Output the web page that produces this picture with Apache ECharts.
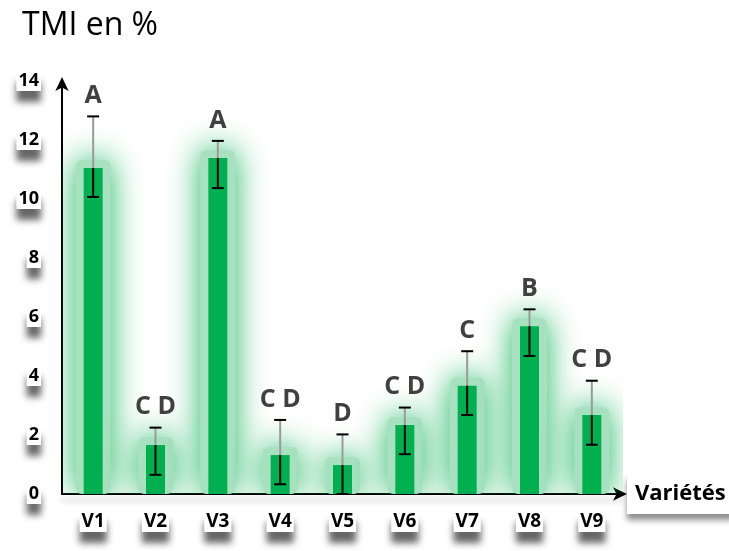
<!DOCTYPE html>
<html>
<head>
<meta charset="utf-8">
<script src="https://cdn.jsdelivr.net/npm/echarts@6/dist/echarts.min.js"></script>
<style>
  html, body { margin: 0; padding: 0; background: #fff; }
  #chart { width: 729px; height: 551px; }
</style>
</head>
<body>
<div id="chart"></div>
<script>
// TMI (%) par variété : moyenne, bornes de l'écart et groupes statistiques
const varietes = ['V1', 'V2', 'V3', 'V4', 'V5', 'V6', 'V7', 'V8', 'V9'];
const moyennes = [11.05, 1.66, 11.39, 1.32, 0.98, 2.34, 3.67, 5.69, 2.68];
const bornesHautes = [12.8, 2.25, 11.97, 2.51, 2.02, 2.93, 4.84, 6.26, 3.84];
const bornesBasses = [10.07, 0.65, 10.37, 0.33, 0, 1.35, 2.68, 4.68, 1.67];
const groupes = ['A', 'C D', 'A', 'C D', 'D', 'C D', 'C', 'B', 'C D'];
const graduations = [0, 2, 4, 6, 8, 10, 12, 14];

const FONT = '"Open Sans", "Noto Sans", sans-serif';
const LARGEUR_BARRE = 19;
const chart = echarts.init(document.getElementById('chart'), null, { renderer: 'canvas' });

const boxLabel = {
  color: '#000',
  fontFamily: FONT,
  fontWeight: 'bold',
  backgroundColor: '#fff',
  shadowColor: 'rgba(0,0,0,0.6)',
  shadowBlur: 7,
  shadowOffsetY: 11
};

// halo vert autour de chaque barre
function renderHalo(params, api) {
  const i = api.value(0);
  const haut = api.coord([i, api.value(1)]);
  const bas = api.coord([i, 0]);
  const marge = 8;
  const x = haut[0] - LARGEUR_BARRE / 2 - marge;
  return {
    type: 'rect',
    shape: { x: x, y: haut[1] - marge, width: LARGEUR_BARRE + 2 * marge, height: bas[1] - haut[1] + marge, r: 6 },
    style: { fill: '#a8e1c0', shadowBlur: 32, shadowColor: 'rgba(0,176,80,0.9)' }
  };
}

function renderErreur(params, api) {
  const i = api.value(0);
  const pMoy = api.coord([i, api.value(1)]);
  const pHaut = api.coord([i, api.value(2)]);
  const pBas = api.coord([i, api.value(3)]);
  const x = pMoy[0];
  const demi = 6;
  return {
    type: 'group',
    children: [
      { type: 'line', shape: { x1: x, y1: pHaut[1], x2: x, y2: pMoy[1] },
        style: { stroke: '#9a9a9a', lineWidth: 2 } },
      { type: 'line', shape: { x1: x, y1: pMoy[1], x2: x, y2: pBas[1] },
        style: { stroke: '#000', lineWidth: 2 } },
      { type: 'line', shape: { x1: x - demi, y1: pHaut[1], x2: x + demi, y2: pHaut[1] },
        style: { stroke: '#000', lineWidth: 2 } },
      { type: 'line', shape: { x1: x - demi, y1: pBas[1], x2: x + demi, y2: pBas[1] },
        style: { stroke: '#000', lineWidth: 2 } },
      { type: 'text', x: x, y: pHaut[1] - 8,
        style: { text: groupes[params.dataIndex], align: 'center', verticalAlign: 'bottom',
          fill: '#404040', font: 'bold 25px ' + FONT } }
    ]
  };
}

chart.setOption({
  animation: false,
  title: {
    text: 'TMI en %',
    left: 17, top: 5,
    textStyle: { fontFamily: FONT, fontSize: 32, fontWeight: 'normal', color: '#000' }
  },
  grid: { left: 62, right: 106, top: 81, bottom: 57, containLabel: false, outerBoundsMode: 'none' },
  xAxis: {
    type: 'category',
    data: varietes,
    name: 'Variétés',
    nameLocation: 'end',
    nameGap: 4,
    nameTextStyle: Object.assign({}, boxLabel, {
      fontSize: 22, padding: [14, 8, 4, 8], verticalAlign: 'middle',
      shadowOffsetY: 6, shadowBlur: 6, shadowColor: 'rgba(0,0,0,0.45)'
    }),
    axisLine: {
      show: true,
      symbol: ['none', 'arrow'],
      symbolSize: [10, 14],
      symbolOffset: [0, 4],
      lineStyle: { color: '#000', width: 2, shadowColor: 'rgba(0,0,0,0.25)', shadowBlur: 6, shadowOffsetY: 6 }
    },
    axisTick: { show: false },
    axisLabel: Object.assign({}, boxLabel, { fontSize: 19, margin: 17, padding: [1, 2, 1, 2] })
  },
  yAxis: {
    type: 'value',
    min: 0, max: 14, interval: 2,
    axisLine: {
      show: true,
      symbol: ['none', 'arrow'],
      symbolSize: [10, 14],
      symbolOffset: [0, 4],
      lineStyle: { color: '#000', width: 2 }
    },
    axisTick: { show: false },
    splitLine: { show: false },
    axisLabel: Object.assign({}, boxLabel, {
      fontSize: 18, margin: 21, padding: [1, 2, 1, 2],
      formatter: v => graduations.includes(v) ? String(v) : ''
    })
  },
  series: [
    {
      type: 'custom',
      renderItem: renderHalo,
      clip: true,
      silent: true,
      data: varietes.map((v, i) => [i, moyennes[i]]),
      z: 1
    },
    {
      type: 'bar',
      data: moyennes,
      barWidth: LARGEUR_BARRE,
      itemStyle: { color: '#00B050' },
      z: 2
    },
    {
      type: 'custom',
      renderItem: renderErreur,
      data: varietes.map((v, i) => [i, moyennes[i], bornesHautes[i], bornesBasses[i]]),
      z: 5
    }
  ]
});
</script>
</body>
</html>
